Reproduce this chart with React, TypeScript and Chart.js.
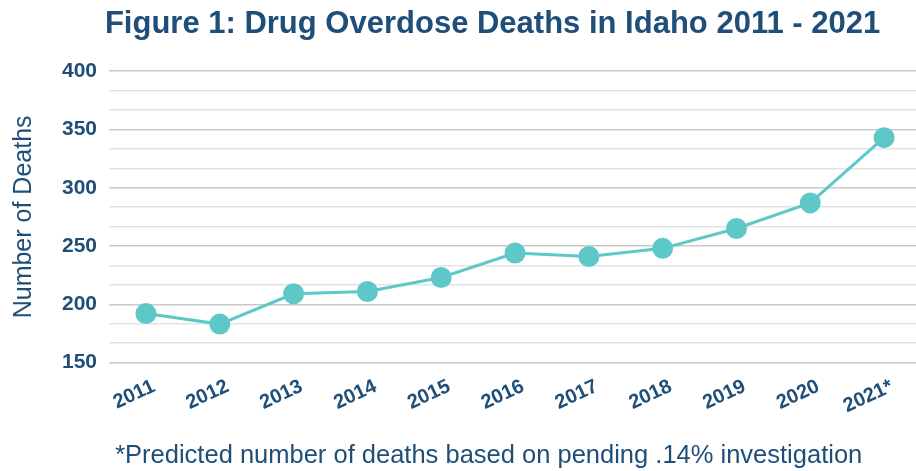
import React, { useEffect, useRef } from "react";
import { Chart, registerables } from "chart.js";

Chart.register(...registerables);

const years = ["2011", "2012", "2013", "2014", "2015", "2016", "2017", "2018", "2019", "2020", "2021*"];
const deaths = [192, 183, 209, 211, 223, 244, 241, 248, 265, 287, 343];
const yMin = 150;
const yMax = 400;
const labelledTicks = [150, 200, 250, 300, 350, 400];
const minorPerMajor = 3;

const NAVY = "#1F4E79";
const TEAL = "#5EC8C9";
const FONT = "Liberation Sans";

const gridValues: number[] = [];
for (let i = 0; i < labelledTicks.length; i++) {
  gridValues.push(labelledTicks[i]);
  if (i < labelledTicks.length - 1) {
    const step = (labelledTicks[i + 1] - labelledTicks[i]) / minorPerMajor;
    for (let k = 1; k < minorPerMajor; k++) gridValues.push(labelledTicks[i] + k * step);
  }
}

export default function App() {
  const ref = useRef<HTMLCanvasElement | null>(null);
  useEffect(() => {
    document.body.style.margin = "0";
    const ctx = ref.current!;
    const chart = new Chart(ctx, {
      type: "line",
      data: {
        labels: years,
        datasets: [
          {
            data: deaths,
            borderColor: TEAL,
            backgroundColor: TEAL,
            borderWidth: 3,
            pointRadius: 9,
            pointHoverRadius: 9,
            pointBackgroundColor: TEAL,
            pointBorderColor: TEAL,
            tension: 0,
          },
        ],
      },
      options: {
        animation: false,
        responsive: true,
        maintainAspectRatio: false,
        layout: { padding: { left: 9, right: 0, top: 0, bottom: 0 } },
        plugins: {
          legend: { display: false },
          tooltip: { enabled: false },
          title: {
            display: true,
            text: "     Figure 1: Drug Overdose Deaths in Idaho 2011 - 2021",
            color: NAVY,
            font: { family: FONT, size: 31, weight: "bold" },
            padding: { top: 6, bottom: 28 },
          },
          subtitle: {
            display: true,
            position: "bottom",
            text: "     *Predicted number of deaths based on pending .14% investigation",
            color: NAVY,
            font: { family: FONT, size: 25.5 },
            padding: { top: 18, bottom: 0 },
          },
        },
        scales: {
          x: {
            offset: true,
            grid: { display: false },
            border: { display: false },
            ticks: {
              color: NAVY,
              font: { family: FONT, size: 20, weight: "bold" },
              maxRotation: 25,
              minRotation: 25,
              padding: 4,
              labelOffset: 8,
            },
          },
          y: {
            min: yMin,
            max: yMax,
            border: { display: false },
            afterBuildTicks: (s: any) => {
              s.ticks = gridValues.map((v) => ({ value: v }));
            },
            grid: {
              color: (c: any) => (c.index % minorPerMajor === 0 ? "#C9C9C9" : "#E3E3E3"),
              lineWidth: 1.5,
              drawTicks: false,
            },
            title: {
              display: true,
              text: "Number of Deaths",
              color: NAVY,
              font: { family: FONT, size: 25 },
              padding: { top: 0, bottom: 11 },
            },
            ticks: {
              autoSkip: false,
              color: NAVY,
              font: { family: FONT, size: 21, weight: "bold" },
              padding: 12,
              callback: (v: any) => {
                const n = Number(v);
                return labelledTicks.some((t) => Math.abs(t - n) < 0.01) ? String(Math.round(n)) : "";
              },
            },
          },
        },
      },
    });
    return () => chart.destroy();
  }, []);
  return (
    <div style={{ width: 916, height: 471, overflow: "hidden", background: "#fff" }}>
      <div style={{ width: 933, height: 471, position: "relative" }}>
        <canvas ref={ref} />
      </div>
    </div>
  );
}
